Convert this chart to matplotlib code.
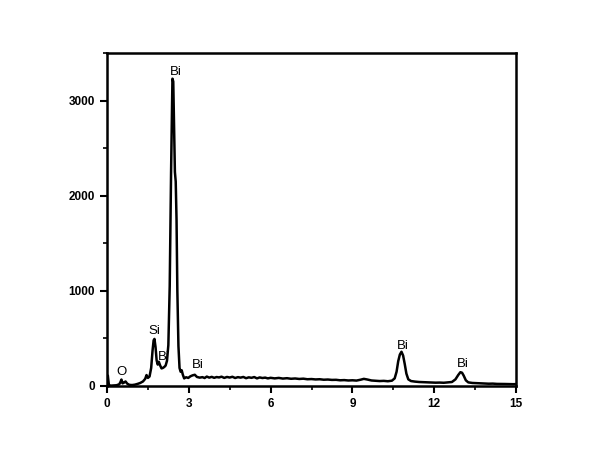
import matplotlib
matplotlib.use('Agg')
import matplotlib.pyplot as plt
from matplotlib.ticker import MultipleLocator

# EDX spectrum (energy in keV, counts)
energy = [0.00, 0.03, 0.07, 0.15, 0.25, 0.35, 0.45, 0.50, 0.53, 0.57, 0.62, 0.68,
          0.74, 0.82, 0.92, 1.02, 1.12, 1.22, 1.32, 1.40, 1.45, 1.50, 1.56, 1.62,
          1.67, 1.71, 1.74, 1.78, 1.82, 1.86, 1.90, 1.95, 2.00, 2.05, 2.10, 2.15,
          2.20, 2.25, 2.30, 2.35, 2.40, 2.43, 2.46, 2.49, 2.52, 2.55, 2.58, 2.62,
          2.66, 2.70, 2.74, 2.78, 2.83, 2.90, 2.98, 3.06, 3.14, 3.22, 3.30, 3.40,
          3.50, 3.58, 3.66, 3.75, 3.84, 3.93, 4.02, 4.11, 4.20, 4.30, 4.40, 4.50,
          4.60, 4.70, 4.80, 4.90, 5.00, 5.10, 5.20, 5.30, 5.40, 5.50, 5.60, 5.70,
          5.80, 5.90, 6.00, 6.15, 6.30, 6.45, 6.60, 6.75, 6.90,
          7.05, 7.20, 7.35, 7.50, 7.65, 7.80, 7.95, 8.10, 8.25, 8.40, 8.55, 8.70,
          8.85, 9.00, 9.15, 9.30, 9.42, 9.55, 9.70, 9.85, 10.00, 10.15, 10.30, 10.45,
          10.55, 10.62, 10.68, 10.74, 10.80, 10.86, 10.92, 10.98, 11.05, 11.15, 11.30, 11.45,
          11.60, 11.75, 11.90, 12.05, 12.20, 12.35, 12.50, 12.65, 12.78, 12.88, 12.96, 13.02,
          13.08, 13.16, 13.25, 13.40, 13.55, 13.70, 13.85, 14.00, 14.15, 14.30, 14.45, 14.60,
          14.75, 14.90, 15.00]
counts = [0, 110, 8, 4, 6, 8, 18, 45, 68, 28, 35, 48,
          25, 12, 10, 14, 22, 32, 48, 75, 115, 85, 100, 190,
          370, 480, 495, 410, 270, 225, 255, 215, 185, 190, 200, 215,
          265, 430, 1050, 2250, 3230, 3200, 2700, 2250, 2150, 1750, 1000, 420,
          190, 150, 165, 120, 80, 92, 85, 102, 112, 118, 95, 88,
          93, 84, 99, 88, 96, 86, 94, 90, 98, 85, 95, 89,
          97, 84, 93, 88, 95, 82, 91, 86, 94, 80, 90, 84,
          88, 80, 86, 80, 85, 78, 82, 76, 79,
          74, 77, 71, 73, 69, 71, 66, 68, 64, 65, 60, 62,
          58, 60, 57, 66, 75, 68, 58, 55, 52, 54, 50, 56,
          80, 150, 260, 330, 360, 320, 230, 130, 70, 52, 46, 42,
          40, 38, 37, 35, 36, 34, 38, 42, 70, 115, 145, 140,
          110, 60, 38, 32, 30, 28, 26, 24, 25, 22, 22, 21,
          20, 19, 20]

# peak labels
label_text = ['O', 'Si', 'Bi', 'Bi', 'Bi', 'Bi', 'Bi']
label_x = [0.55, 1.72, 2.09, 2.53, 3.34, 10.85, 13.05]
label_y = [150, 580, 305, 3300, 220, 420, 230]

plt.rcParams['font.family'] = ['Liberation Sans', 'DejaVu Sans']

fig = plt.figure(figsize=[6.0, 4.63], dpi=100)
ax = fig.add_axes([107 / 600, 1 - 386 / 463, (516 - 107) / 600, (386 - 53) / 463])

ax.plot(energy, counts, color='black', lw=1.8)

for t, x, y in zip(label_text, label_x, label_y):
    ax.text(x, y, t, ha='center', va='center', fontsize=9.5)

ax.set_xlim(0, 15)
ax.set_ylim(0, 3500)
ax.xaxis.set_major_locator(MultipleLocator(3))
ax.xaxis.set_minor_locator(MultipleLocator(1.5))
ax.yaxis.set_major_locator(MultipleLocator(1000))
ax.yaxis.set_minor_locator(MultipleLocator(500))

for s in ax.spines.values():
    s.set_linewidth(1.8)
ax.tick_params(which='major', direction='out', length=5, width=1.5, labelsize=8.5)
ax.tick_params(which='minor', direction='out', length=3, width=1.2)
for lab in ax.get_xticklabels() + ax.get_yticklabels():
    lab.set_fontweight('bold')

plt.savefig('out.png', dpi=100)
